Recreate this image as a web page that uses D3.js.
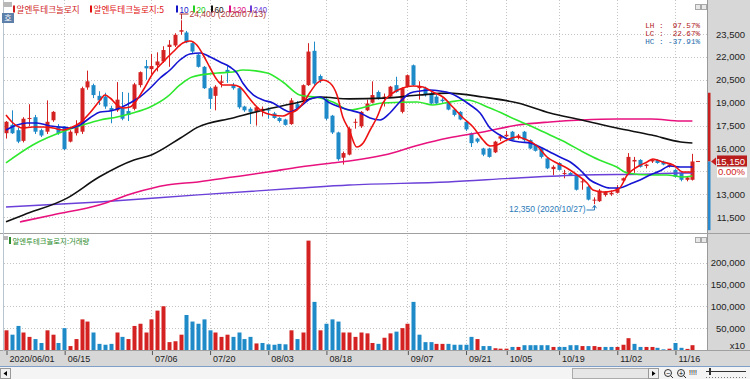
<!DOCTYPE html>
<html><head><meta charset="utf-8">
<script src="https://cdn.jsdelivr.net/npm/d3@7"></script>
<style>body{margin:0;background:#fff;overflow:hidden}svg{display:block}</style>
</head><body><svg id="c" width="750" height="379"></svg>
<script>
// ---------------- DATA ----------------
const dates = ["06/01","06/02","06/03","06/04","06/05","06/08","06/09","06/10","06/11","06/12","06/15","06/16","06/17","06/18","06/19","06/22","06/23","06/24","06/25","06/26","06/29","06/30",
"07/01","07/02","07/03","07/06","07/07","07/08","07/09","07/10","07/13","07/14","07/15","07/16","07/17","07/20","07/21","07/22","07/23","07/24","07/27","07/28","07/29","07/30","07/31",
"08/03","08/04","08/05","08/06","08/07","08/10","08/11","08/12","08/13","08/14","08/18","08/19","08/20","08/21","08/24","08/25","08/26","08/27","08/28","08/31",
"09/01","09/02","09/03","09/04","09/07","09/08","09/09","09/10","09/11","09/14","09/15","09/16","09/17","09/18","09/21","09/22","09/23","09/24","09/25","09/28","09/29",
"10/05","10/06","10/07","10/08","10/12","10/13","10/14","10/15","10/16","10/19","10/20","10/21","10/22","10/23","10/26","10/27","10/28","10/29","10/30",
"11/02","11/03","11/04","11/05","11/06","11/09","11/10","11/11","11/12","11/13","11/16","11/17","11/18","11/19"];
const opens = [17000,17550,17200,16500,17950,18050,17200,17100,17850,17450,17450,16450,17000,17100,20000,20150,19450,19400,18650,18500,18650,18450,18600,20150,21400,21200,21450,21700,22650,22750,23650,23600,22900,22150,21350,19950,19450,20300,21150,20150,19950,18750,18600,18450,18500,18550,18300,18000,17900,17600,18900,19150,20150,22400,20750,19250,18150,17050,15400,15600,17700,17450,18500,19000,19700,19300,19400,20150,18400,20050,21450,19950,19950,19600,19400,19200,19050,18550,18400,17750,17000,16650,16000,16000,15750,16650,16800,17100,16750,17100,16550,16250,16000,15350,14650,15050,14350,14400,14250,13800,13500,12600,12550,12950,13000,13100,13900,14350,15150,15250,14850,15150,15250,15150,14850,14600,14400,13950,13950];
const highs = [17800,18500,17350,18050,18900,18200,17300,19150,18450,17600,17450,17200,17850,20050,21100,20250,19750,19650,18800,20350,19700,19650,20300,21050,21800,22200,22300,22700,23100,23550,24400,23700,22950,22200,21400,20050,20150,20800,21400,20300,20000,18800,18700,18750,18750,18700,18400,18050,17950,19300,19100,20200,22900,23000,20850,19300,18200,17100,15800,17400,17950,18450,19200,20400,19800,19600,20100,20700,20000,20850,21500,20400,20050,19700,19500,19300,19100,18600,18450,17800,17050,16700,16050,16050,16500,16900,17150,17150,16950,17150,16600,16300,16050,15400,14900,15100,14600,14450,14300,14000,13550,12800,13350,13200,13250,13600,14100,15700,15450,15300,15000,15300,15300,15200,15000,14650,14450,14150,15650];
const lows = [16650,16950,16350,16400,17450,16950,16750,16950,17750,16900,15900,16400,16850,16950,19850,19300,18850,18600,17650,18400,17850,17800,18500,20000,20500,20850,21050,21600,21350,22650,23450,22900,22250,21300,19900,18600,18500,20000,20300,19850,18600,18400,17600,17500,18100,17950,17950,17700,17500,17550,18550,19050,20100,20150,20300,17850,16950,15200,14950,15550,17300,17350,18450,18950,19200,18750,19350,19650,18300,20000,20100,19200,19400,18900,18900,19000,18500,18100,17850,17150,16100,16350,15500,15400,15700,16500,16750,16500,16600,16450,15950,15800,15350,14650,14250,14550,14050,14200,13250,13300,12600,12350,12500,12850,12900,13050,13800,14300,14400,14750,14700,15050,15000,14900,14750,14100,13850,13850,13900];
const closes = [17750,17000,16450,17950,18000,17100,16850,17750,18400,17000,15950,17100,17450,19950,20400,19500,19150,18750,18450,19200,17950,18200,20200,21000,21250,21400,21700,22450,22800,23450,23750,22950,22350,21350,19950,19250,20050,20400,20950,19950,18700,18500,18400,18700,18600,18500,18000,17800,17550,19150,18650,20150,22350,20250,20450,17950,17050,15300,15700,17300,17750,18400,18950,19500,19300,19400,20050,19700,19950,20800,20150,20100,19500,18950,18950,19100,18550,18200,17900,17250,16350,16450,15600,15450,16450,16800,16900,16550,16850,16550,16000,15850,15450,14700,14800,14600,14400,14250,13300,13850,12650,12650,13250,13150,13100,13400,14050,15450,15250,14800,14950,15250,15050,14950,14950,14150,13950,14100,15150];
const volumes = [45000,35000,55000,40000,30000,25000,16000,45000,35000,16000,50000,9000,25000,70000,65000,40000,14000,12000,14000,40000,30000,25000,55000,60000,40000,70000,90000,100000,18000,20000,35000,80000,65000,60000,70000,45000,40000,30000,35000,30000,40000,25000,30000,15000,16000,13000,12000,14000,13000,45000,25000,40000,250000,110000,45000,60000,70000,65000,40000,40000,30000,40000,38000,16000,14000,28000,38000,42000,50000,60000,110000,35000,18000,18000,14000,14000,14000,12000,12000,12000,30000,25000,9000,9000,4000,3000,3000,7000,7000,11000,11000,11000,11000,11000,7000,7000,7000,11000,11000,9000,9000,9000,7000,7000,7000,7000,12000,27000,14000,7000,7000,7000,5000,1500,3000,16000,5000,2500,11000];
// moving averages: [day index, value]
const ma5 = [[0,18195],[1.2,17671],[2.9,17343],[4.6,17409],[6.4,17409],[8.1,17343],[9.8,17212],[11,17343],[12.7,17671],[14.4,18326],[16.2,19177],[17,19505],[17.9,19308],[19.1,18850],[20.1,18653],[21.3,18719],[22.5,19177],[23.6,19832],[25.3,20946],[27,21666],[28.7,22321],[30.4,22911],[31.6,23042],[32.8,22780],[33.9,22125],[35.1,21273],[36.3,20487],[37.3,20160],[39,20160],[40.2,20029],[41.4,19505],[42.5,18981],[44.2,18391],[45.9,18195],[47.6,18129],[48.8,18326],[50,18522],[51.1,18981],[52.3,19701],[53.5,20291],[54.5,20487],[55.7,20291],[56.9,19505],[57.9,18064],[59,17212],[60.3,16099],[61.4,16361],[62.6,17212],[63.8,18064],[64.8,18981],[66.5,19636],[68.2,19963],[70,20094],[71.7,20029],[73.4,19701],[75.1,19374],[76.8,18719],[78.6,17998],[80.3,17409],[82,16557],[83.2,16164],[84.4,16230],[86.1,16557],[87.8,16753],[89.6,16557],[91.3,16164],[93,15444],[94.7,15051],[96.4,14723],[98.2,14264],[99.9,13741],[100.9,13282],[102.6,13151],[104.3,13217],[105.5,13413],[106.8,14264],[108.5,14789],[110.2,15116],[111.2,15312],[112.9,15116],[114.7,14920],[116.4,14461],[118,14461]];
const ma10 = [[0,17212],[1.9,17540],[3.6,17671],[5.3,17671],[7.6,17474],[9.3,17409],[11,17343],[12.7,17540],[14.4,17998],[16.2,18391],[17.9,18457],[19.6,18653],[21.3,18981],[23,19374],[24.8,19963],[26.5,20618],[28.2,21142],[29.9,21797],[31.6,22190],[33.4,22256],[35.1,21994],[36.8,21666],[38.5,21339],[39.7,20946],[40.7,20291],[42.5,19505],[44.2,19177],[45.9,18981],[47.6,18588],[48.8,18391],[50.5,18719],[52.3,19243],[54,19374],[55.7,18981],[57.4,18719],[59,18522],[60.9,18326],[62.6,17998],[64.3,17867],[66,18326],[67.7,19046],[69.5,19636],[71.2,19767],[72.9,19832],[74.6,19767],[76.3,19636],[78,19308],[79.8,18850],[81.5,18326],[83.2,17343],[84.9,16885],[86.6,16557],[88.4,16426],[90.1,16361],[91.8,16099],[93.5,15771],[95.2,15444],[97,15116],[98.7,14592],[100.4,13937],[102.1,13610],[103.8,13413],[105.5,13413],[107.3,13675],[109,13937],[110.7,14264],[112.4,14527],[114.1,14854],[115.9,14789],[118,14789]];
const ma20 = [[0,15060],[4.6,16230],[10.5,17212],[13.2,17540],[16.2,17867],[19.1,18063],[21.8,18325],[24.8,18718],[27.7,19374],[29.9,20160],[32,20683],[36.3,20945],[39,21011],[40.7,21142],[44.9,20945],[47.6,20356],[50.5,19505],[54,19308],[56.2,19046],[59,18522],[64.8,18980],[70.7,19046],[73.4,18850],[76.3,19046],[79.2,19177],[83.2,18653],[87.8,17867],[90.6,17409],[93.5,16885],[96.4,16360],[99.2,15771],[102,15247],[105,14789],[106.8,14395],[110.7,14264],[113.6,14264],[116.4,14134],[118,14199]];
const ma60 = [[0,11200],[3,11650],[10.5,12750],[16,14130],[22,15250],[25,15580],[30,16690],[33,17400],[39,18000],[45,18590],[50.5,19050],[54,19370],[59,19250],[65,19300],[71,19500],[76,19630],[82,19370],[88,18980],[93.5,18330],[99,17870],[105,17340],[111,16880],[116,16430],[118,16360]];
const ma120 = [[2.4,11190],[8,11650],[16,12300],[22,13090],[27.7,13610],[33,13810],[39,14130],[45,14460],[50.5,14790],[56,15050],[59,15180],[65,15570],[71,16230],[76,16690],[82,17080],[88,17540],[93.5,17740],[99,17870],[105,17930],[111,17930],[116,17800],[118,17800]];
const ma240 = [[0,12170],[16,12500],[33,12960],[50.5,13410],[59,13610],[76,13810],[88,14070],[99,14260],[111,14330],[116,14400],[118,14400]];
const priceGrid = [11500,13000,14500,16000,17500,19000,20500,22000,23500];
const priceLabels = [11500,13000,16000,17500,19000,20500,22000,23500];
const volTicks = [50000,100000,150000,200000];
const tickIdx = [0,10,25,35,45,55,69,79,86,95,105,115];
const tickLabels = ["2020/06/01","06/15","07/06","07/20","08/03","08/18","09/07","09/21","10/05","10/19","11/02","11/16"];
const legendItems = [{t:"알엔투테크놀로지",c:"#d01c1c"},{t:"알엔투테크놀로지:5",c:"#e01010"},{t:"10",c:"#1515c8"},{t:"20",c:"#22d022"},{t:"60",c:"#111111"},{t:"120",c:"#e0108a"},{t:"240",c:"#6a40d8"}];
const highMark = {i:30, v:24400, label:"24,400 (2020/07/13)"};
const lowMark = {i:101, v:12350, label:"12,350 (2020/10/27)"};
const stats = ["LH :  97.57%","LC :  22.67%","HC : -37.91%"];
const lastPrice = 15150, lastChange = "0.00%";
const priceBand = [19650, 15150, 10650];

// ---------------- DRAW ----------------
const svg = d3.select('#c');
const x = d3.scaleLinear().domain([0,118]).range([6,692.4]);
const y = d3.scaleLinear().domain([11500,23500]).range([217.2,34]);
const yv = d3.scaleLinear().domain([0,200000]).range([350,262.5]);
const UP="#d42222", DN="#1f8ac8";
const F="'Liberation Sans',Arial,sans-serif", KF="'Noto Sans CJK KR','Noto Sans',sans-serif";

svg.append('rect').attr('width',750).attr('height',379).attr('fill','#fff');
svg.append('rect').attr('x',707).attr('y',0).attr('width',43).attr('height',366).attr('fill','#d7d7d7');
svg.append('line').attr('x1',707.5).attr('x2',707.5).attr('y1',0).attr('y2',366).attr('stroke','#9a9a9a');
svg.append('rect').attr('x',0).attr('y',351).attr('width',750).attr('height',15).attr('fill','#d7d7d7');
svg.append('line').attr('x1',0).attr('x2',750).attr('y1',350.5).attr('y2',350.5).attr('stroke','#a0a0a0');
svg.append('line').attr('x1',0).attr('x2',750).attr('y1',366.5).attr('y2',366.5).attr('stroke','#7f9fc8');
svg.append('rect').attr('x',0).attr('y',367).attr('width',750).attr('height',12).attr('fill','#f4f4f4');
svg.append('line').attr('x1',0).attr('x2',750).attr('y1',233.5).attr('y2',233.5).attr('stroke','#a0a0a0');
svg.append('line').attr('x1',3.5).attr('x2',3.5).attr('y1',0).attr('y2',351).attr('stroke','#b8c4d0');

const dash='1,2', GC='#c4c4c4';
svg.append('g').selectAll('line').data(priceGrid).join('line')
  .attr('x1',4).attr('x2',707).attr('y1',d=>Math.round(y(d))+0.5).attr('y2',d=>Math.round(y(d))+0.5)
  .attr('stroke',GC).attr('stroke-dasharray',dash);
svg.append('g').selectAll('line').data(volTicks).join('line')
  .attr('x1',4).attr('x2',707).attr('y1',d=>Math.round(yv(d))+0.5).attr('y2',d=>Math.round(yv(d))+0.5)
  .attr('stroke',GC).attr('stroke-dasharray',dash);
svg.append('g').selectAll('line').data(tickIdx.slice(1)).join('line')
  .attr('x1',d=>Math.round(x(d))+0.5).attr('x2',d=>Math.round(x(d))+0.5).attr('y1',0).attr('y2',233)
  .attr('stroke',GC).attr('stroke-dasharray',dash);
svg.append('g').selectAll('line').data(tickIdx.slice(1)).join('line')
  .attr('x1',d=>Math.round(x(d))+0.5).attr('x2',d=>Math.round(x(d))+0.5).attr('y1',235).attr('y2',350)
  .attr('stroke',GC).attr('stroke-dasharray',dash);

const defs=svg.append('defs');
defs.append('clipPath').attr('id','top').append('rect').attr('x',4).attr('y',0).attr('width',703).attr('height',233);

const idx = d3.range(dates.length);
const lineGen = d3.line().x(d=>x(d[0])).y(d=>y(d[1])).curve(d3.curveMonotoneX);
const gTop = svg.append('g').attr('clip-path','url(#top)');
const maDefs = [[ma240,'#6a40d8',1.4],[ma120,'#e8127e',1.6],[ma60,'#111',1.6],[ma20,'#2ee82e',1.6],[ma10,'#1414d2',1.6],[ma5,'#ee1111',1.6]];
const cg = gTop.append('g');
cg.selectAll('line').data(idx).join('line')
  .attr('x1',i=>Math.round(x(i))+0.5).attr('x2',i=>Math.round(x(i))+0.5)
  .attr('y1',i=>y(highs[i])).attr('y2',i=>y(lows[i]))
  .attr('stroke',i=>closes[i]>=opens[i]?UP:DN).attr('stroke-width',1);
cg.selectAll('rect').data(idx).join('rect')
  .attr('x',i=>Math.round(x(i))-1.5).attr('width',4)
  .attr('y',i=>y(Math.max(opens[i],closes[i])))
  .attr('height',i=>Math.max(1,Math.abs(y(opens[i])-y(closes[i]))))
  .attr('fill',i=>closes[i]>=opens[i]?UP:DN);
maDefs.forEach(([d,c,w])=>{
  gTop.append('path').datum(d).attr('d',lineGen).attr('fill','none').attr('stroke',c).attr('stroke-width',w);
});
gTop.append('line').attr('x1',696).attr('x2',700).attr('y1',y(lastPrice)).attr('y2',y(lastPrice)).attr('stroke',UP);

// volume
svg.append('g').selectAll('rect').data(idx).join('rect')
  .attr('x',i=>Math.round(x(i))-1.5).attr('width',4)
  .attr('y',i=>yv(volumes[i])).attr('height',i=>yv(0)-yv(volumes[i]))
  .attr('fill',i=>(i>0?closes[i]>=closes[i-1]:closes[i]>=opens[i])?UP:DN);

// axes
const ay = svg.append('g').attr('transform','translate(745,0)')
  .call(d3.axisRight(y).tickValues(priceLabels).tickSize(0).tickFormat(d3.format(',')));
ay.select('.domain').remove();
ay.selectAll('text').attr('x',0).attr('text-anchor','end').attr('font-family',F).attr('font-size',9.5).attr('fill','#222');
const av = svg.append('g').attr('transform','translate(745,0)')
  .call(d3.axisRight(yv).tickValues(volTicks).tickSize(0).tickFormat(d3.format(',')));
av.select('.domain').remove();
av.selectAll('text').attr('x',0).attr('text-anchor','end').attr('font-family',F).attr('font-size',9.5).attr('fill','#222');
svg.append('text').attr('x',745).attr('y',349).attr('text-anchor','end').attr('font-family',F).attr('font-size',9.5).attr('fill','#222').text('x10');

const ax = svg.append('g').attr('transform','translate(0,351)')
  .call(d3.axisBottom(x).tickValues(tickIdx).tickSize(4).tickFormat((d,k)=>tickLabels[k]));
ax.select('.domain').remove();
ax.selectAll('line').attr('stroke','#555').attr('transform','translate(0.5,0)');
ax.selectAll('text').attr('text-anchor','start').attr('dx',3).attr('y',5).attr('font-family',F).attr('font-size',9).attr('fill','#222');

svg.append('rect').attr('x',708).attr('width',2.5).attr('y',y(priceBand[0])).attr('height',y(priceBand[1])-y(priceBand[0])).attr('fill','#c81e1e');
svg.append('rect').attr('x',708).attr('width',2.5).attr('y',y(priceBand[1])).attr('height',y(priceBand[2])-y(priceBand[1])).attr('fill','#2a8ad0');
const yp = y(lastPrice);
svg.append('path').attr('d',`M711,${yp} L716,${yp-4} L716,${yp+4}Z`).attr('fill','#c81e1e');
svg.append('rect').attr('x',717).attr('y',yp-6).attr('width',30).attr('height',11).attr('fill','#b81c1c');
svg.append('text').attr('x',745).attr('y',yp+3.5).attr('text-anchor','end').attr('font-family',F).attr('font-size',9.5).attr('fill','#fff').text(d3.format(',')(lastPrice));
svg.append('rect').attr('x',717).attr('y',yp+6).attr('width',30).attr('height',10).attr('fill','#fff');
svg.append('text').attr('x',745).attr('y',yp+14).attr('text-anchor','end').attr('font-family',F).attr('font-size',9.5).attr('fill','#d01c1c').text(lastChange);

svg.append('g').selectAll('text').data(stats).join('text')
  .attr('x',700).attr('y',(d,k)=>28+k*8).attr('text-anchor','end')
  .attr('font-family',"'Liberation Mono','DejaVu Sans Mono',monospace").attr('font-size',7.6)
  .attr('fill',(d,k)=>k<2?'#b01818':'#1a6aaa').style('white-space','pre').text(d=>d);

// legend
const lg = svg.append('g');
const lgPos=[13,90,176,193,211,229,250];
legendItems.forEach((it,k)=>{
  const lx = lgPos[k];
  lg.append('rect').attr('x',lx).attr('y',5.5).attr('width',2).attr('height',7).attr('fill',it.c);
  lg.append('text').attr('x',lx+3.5).attr('y',12.5).attr('font-family',/[가-힣]/.test(it.t)?KF:F)
    .attr('font-size',/[가-힣]/.test(it.t)?8.6:8.2).attr('fill',it.c).text(it.t);
});
svg.append('rect').attr('x',9).attr('y',237).attr('width',2).attr('height',7).attr('fill','#2a8a2a');
svg.append('text').attr('x',12.5).attr('y',243.5).attr('font-family',KF).attr('font-size',7.4).attr('fill','#2a8a2a').text('알엔투테크놀로지:거래량');

const hx = Math.round(x(highMark.i))+0.5, hy=y(highMark.v);
svg.append('path').attr('d',`M${hx},${hy-1} V14 M${hx-2},14 H${hx+7}`).attr('stroke','#b03030').attr('fill','none');
svg.append('text').attr('x',hx+8).attr('y',17).attr('font-family',F).attr('font-size',8.5).attr('fill','#b03a3a').text(highMark.label);
const lxx = Math.round(x(lowMark.i))+0.5, ly=y(lowMark.v);
svg.append('text').attr('x',lxx-9).attr('y',212).attr('text-anchor','end').attr('font-family',F).attr('font-size',8.5).attr('fill','#2a7ab8').text(lowMark.label);
svg.append('path').attr('d',`M${lxx-8},210 H${lxx} V${ly+1.5}`).attr('stroke','#2a7ab8').attr('fill','none');
svg.append('path').attr('d',`M${lxx-2},${ly+4} L${lxx},${ly+1} L${lxx+2},${ly+4}`).attr('stroke','#2a7ab8').attr('fill','none');

svg.append('rect').attr('x',3).attr('y',2).attr('width',9).attr('height',5).attr('fill','#b9b9b9');
svg.append('rect').attr('x',2).attr('y',13).attr('width',12).attr('height',10).attr('fill','#5d80aa');
svg.append('text').attr('x',8).attr('y',21).attr('text-anchor','middle').attr('font-family',KF).attr('font-size',8).attr('fill','#fff').text('호');
svg.append('rect').attr('x',3).attr('y',236).attr('width',5).attr('height',4).attr('fill','#b9b9b9');
[[695,4],[701,4],[695,237],[701,237]].forEach(([a,b])=>svg.append('rect').attr('x',a+0.5).attr('y',b+0.5).attr('width',5).attr('height',5).attr('fill','#e8e8e8').attr('stroke','#a8a8a8'));
svg.append('rect').attr('x',0.5).attr('y',368.5).attr('width',10).attr('height',10).attr('fill','#f0f0f0').attr('stroke','#999');
svg.append('path').attr('d','M7,371 L3.5,373.5 L7,376Z').attr('fill','#000');
svg.append('rect').attr('x',572.5).attr('y',368.5).attr('width',76).attr('height',10).attr('fill','#e6e6e6').attr('stroke','#aaa');
svg.append('rect').attr('x',648.5).attr('y',368.5).attr('width',10).attr('height',10).attr('fill','#f0f0f0').attr('stroke','#999');
svg.append('path').attr('d','M652,371 L655.5,373.5 L652,376Z').attr('fill','#000');
[[668,'−'],[681,'+']].forEach(([cx,s])=>{
  svg.append('circle').attr('cx',cx).attr('cy',373).attr('r',3.5).attr('fill','none').attr('stroke','#333');
  svg.append('line').attr('x1',cx+2.5).attr('y1',375.5).attr('x2',cx+5).attr('y2',378).attr('stroke','#333');
  svg.append('text').attr('x',cx).attr('y',375.5).attr('text-anchor','middle').attr('font-size',7).attr('font-family',F).text(s);
});
svg.append('text').attr('x',693).attr('y',375).attr('text-anchor','middle').attr('font-size',7).attr('font-family',F).text('!!!!');
svg.append('line').attr('x1',706).attr('x2',746).attr('y1',371.5).attr('y2',371.5).attr('stroke','#333');
svg.append('rect').attr('x',709).attr('y',368).attr('width',2).attr('height',7).attr('fill','#333');
svg.append('line').attr('x1',706).attr('x2',746).attr('y1',377.5).attr('y2',377.5).attr('stroke','#777').attr('stroke-dasharray','1,2');
</script></body></html>
